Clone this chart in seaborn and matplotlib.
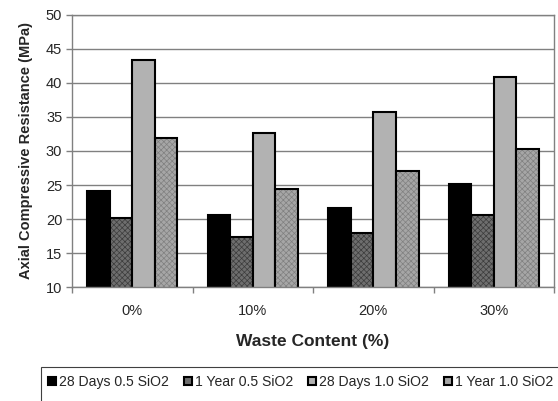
import matplotlib
matplotlib.use("Agg")
import matplotlib.pyplot as plt
from matplotlib.patches import Rectangle
import pandas as pd
import seaborn as sns

waste = ["0%", "10%", "20%", "30%"]
series = ["28 Days 0.5 SiO2", "1 Year 0.5 SiO2", "28 Days 1.0 SiO2", "1 Year 1.0 SiO2"]
d28_05 = [24.1, 20.6, 21.6, 25.1]
y1_05 = [20.1, 17.3, 18.0, 20.6]
d28_10 = [43.3, 32.6, 35.7, 40.9]
y1_10 = [31.9, 24.4, 27.0, 30.3]

df = pd.DataFrame({
    "waste": waste * 4,
    "series": [s for s in series for _ in waste],
    "value": d28_05 + y1_05 + d28_10 + y1_10,
})

sns.set_style("white")
plt.rcParams["font.family"] = ["Liberation Sans", "DejaVu Sans"]
plt.rcParams["hatch.linewidth"] = 0.5

fig = plt.figure(figsize=(5.58, 4.01), dpi=100)
ax = fig.add_axes([0.129, 0.284, 0.864, 0.679])

faces = ["#000000", "#6e6e6e", "#b2b2b2", "#a6a6a6"]
hatches = [None, "xxxxxx", None, "xxxxxx"]
hatch_cols = [None, "#3c3c3c", None, "#808080"]

sns.barplot(data=df, x="waste", y="value", hue="series", hue_order=series,
            order=waste, width=0.75, palette=faces, saturation=1,
            edgecolor="black", linewidth=1.5, ax=ax, legend=True)

for i, cont in enumerate(ax.containers):
    for bar in cont:
        bar.set_facecolor(faces[i])
        if hatches[i]:
            bar.set_hatch(hatches[i])
            bar._hatch_color = matplotlib.colors.to_rgba(hatch_cols[i])

ax.set_ylim(10, 50)
ax.set_yticks(range(10, 51, 5))
ax.set_xlim(-0.5, 3.5)
ax.yaxis.grid(True, color="#808080", linewidth=1)
ax.set_axisbelow(True)
for side in ["left", "top", "right", "bottom"]:
    ax.spines[side].set_visible(True)
    ax.spines[side].set_color("#808080")
    ax.spines[side].set_linewidth(1)

ax.tick_params(axis="y", left=True, length=4, width=1, color="#808080",
               labelsize=10.5, pad=3)
ax.set_xticks([0, 1, 2, 3])
ax.set_xticks([-0.5, 0.5, 1.5, 2.5, 3.5], minor=True)
ax.tick_params(axis="x", which="major", bottom=False, labelsize=10.5, pad=9)
ax.tick_params(axis="x", which="minor", bottom=True, length=4, width=1,
               color="#808080")

ax.set_xlabel("Waste Content (%)", fontsize=12.5, fontweight="bold", labelpad=11)
ax.set_ylabel("Axial Compressive Resistance (MPa)", fontsize=10.5,
              fontweight="bold", labelpad=9)

handles, labels = ax.get_legend_handles_labels()
ax.legend_.remove()
leg = fig.legend(handles, labels, loc="center left", bbox_to_anchor=(0.086, 0.047),
                 ncol=4, frameon=False, fontsize=10.1,
                 handlelength=0.55, handleheight=0.55, handletextpad=0.25,
                 columnspacing=1.05, borderpad=0, borderaxespad=0)

# legend box, runs off the bottom and right edges like the reference
fig.add_artist(Rectangle((0.0735, -0.2), 1.2, 0.2848, transform=fig.transFigure,
                         fill=False, edgecolor="#404040", linewidth=0.8))

fig.savefig("out.png", dpi=100)
